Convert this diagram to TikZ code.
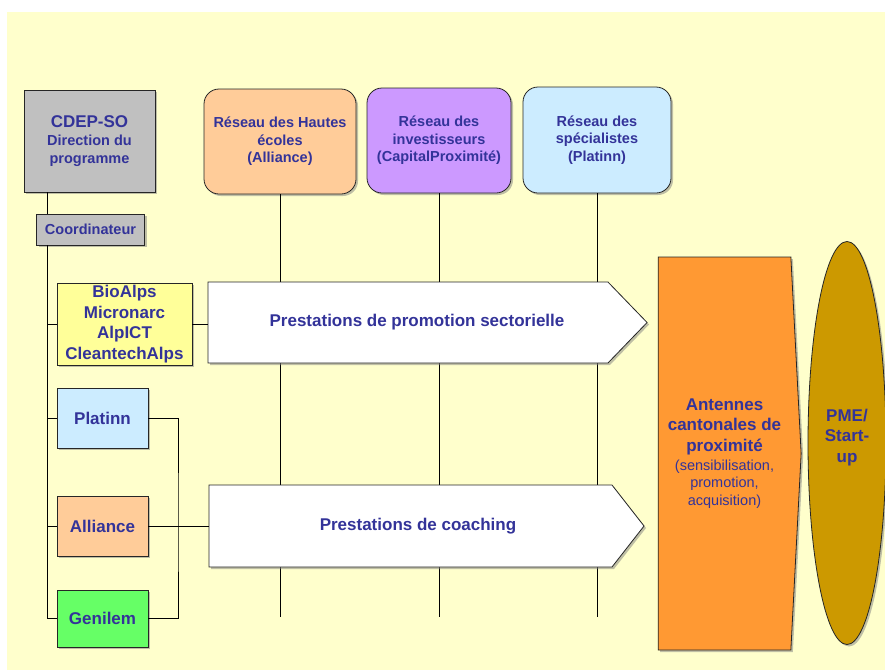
\documentclass[tikz,border=0pt]{standalone}
\usepackage{fontspec}
\setmainfont{Liberation Sans}
\usetikzlibrary{shapes.geometric,shapes.symbols,shadows}
\definecolor{cdback}{HTML}{FFFFCC}
\definecolor{cdtext}{HTML}{333399}
\definecolor{cdgray}{HTML}{C0C0C0}
\definecolor{cdpeach}{HTML}{FFCC99}
\definecolor{cdlilac}{HTML}{CC99FF}
\definecolor{cdsky}{HTML}{CCECFF}
\definecolor{cdlemon}{HTML}{FFFF99}
\definecolor{cdgreen}{HTML}{66FF66}
\definecolor{cdorange}{HTML}{FF9933}
\definecolor{cdgold}{HTML}{CC9900}
\newcommand{\cdsize}[2]{\fontsize{#1}{#2}\selectfont}
\tikzset{
  cdbox/.style={draw=black!85,line width=0.8pt,text=cdtext,align=center,inner sep=1pt,
    font=\bfseries\cdsize{17}{20.5},
    drop shadow={shadow xshift=2pt,shadow yshift=-2pt,fill=black!50,opacity=0.5}},
  netbox/.style={cdbox,rounded corners=15pt,font=\bfseries\cdsize{14.5}{17.5}},
  flow/.style={cdbox,fill=white,shape=signal,signal to=east},
  wire/.style={line width=0.9pt,black}
}

\begin{document}
\begin{tikzpicture}[x=1pt,y=-1pt]
  \useasboundingbox (0,0) rectangle (885,670);
  \fill[white] (0,0) rectangle (885,670);
  \fill[cdback] (7,12) rectangle (885,670);
  % direction et reseaux
  \node[cdbox,fill=cdgray,minimum width=131pt,minimum height=102pt,font=\bfseries\cdsize{14.5}{18}] (cdep) at (89.5,141)
    {{\cdsize{17}{18}CDEP-SO}\\Direction du\\programme};
  \node[cdbox,fill=cdgray,minimum width=108pt,minimum height=31pt,font=\bfseries\cdsize{14.5}{17}] (coord) at (90.5,229.5) {Coordinateur};
  \node[netbox,fill=cdpeach,minimum width=152pt,minimum height=105pt] (hes) at (280,141.5) {R\'eseau des Hautes\\\'ecoles\\(Alliance)};
  \node[netbox,fill=cdlilac,minimum width=144pt,minimum height=105pt] (inv) at (439,140.5) {R\'eseau des\\investisseurs\\(CapitalProximit\'e)};
  \node[netbox,fill=cdsky,minimum width=148pt,minimum height=106pt] (spec) at (597,140) {R\'eseau des\\sp\'ecialistes\\(Platinn)};
  \coordinate (bottom) at (0,617);
  \foreach \n in {hes,inv,spec}{\draw[wire] (\n.south) -- (\n.south |- bottom);}
  % prestations
  \node[flow,minimum width=439pt,minimum height=81pt,signal pointer angle=92] (promo) at (408,322.5) {\hspace*{18pt}Prestations de promotion sectorielle};
  \node[flow,minimum width=435pt,minimum height=82pt,signal pointer angle=104] (coach) at (410.5,526) {\hspace*{15pt}Prestations de coaching};
  \node[cdbox,fill=cdlemon,minimum width=135pt,minimum height=82pt] (bio) at (124.5,324) {BioAlps\\Micronarc\\AlpICT\\CleantechAlps};
  \node[cdbox,fill=cdsky,minimum width=91pt,minimum height=60pt] (plat) at (102.5,418) {Platinn};
  \node[cdbox,fill=cdpeach,minimum width=91pt,minimum height=60pt] (alli) at (102.5,526) {Alliance};
  \node[cdbox,fill=cdgreen,minimum width=91pt,minimum height=57pt] (geni) at (102.5,618.5) {Genilem};
  \node[cdbox,fill=cdorange,shape=signal,signal to=east,signal pointer angle=174,minimum width=143pt,minimum height=393pt] (ant) at (724.5,453.5)
    {Antennes\\cantonales de\\proximit\'e\\[-1.5pt]{\mdseries\cdsize{14.5}{17.5}(sensibilisation,}\\[-3pt]{\mdseries\cdsize{14.5}{17.5}promotion,}\\[-3pt]{\mdseries\cdsize{14.5}{17.5}acquisition)}};
  \node[cdbox,fill=cdgold,ellipse,inner sep=0pt,minimum width=78pt,minimum height=403pt] (pme) at (847,443) {PME/\\Start-\\up\\[-6pt]\mbox{}};
  % liaisons
  \coordinate (spine) at (47,617);
  \draw[wire] (cdep.south -| spine) -- (coord.north -| spine);
  \draw[wire] (coord.south -| spine) |- (geni.west);
  \foreach \n in {bio,plat,alli}{\draw[wire] (spine |- \n.west) -- (\n.west);}
  \draw[wire] (bio.east) -- (bio.east -| promo.west);
  \coordinate (brk) at (178,526);
  \draw[wire] (plat.east) -| (brk) |- (geni.east);
  \draw[wire] (alli.east) -- (coach.west);
\end{tikzpicture}
\end{document}
